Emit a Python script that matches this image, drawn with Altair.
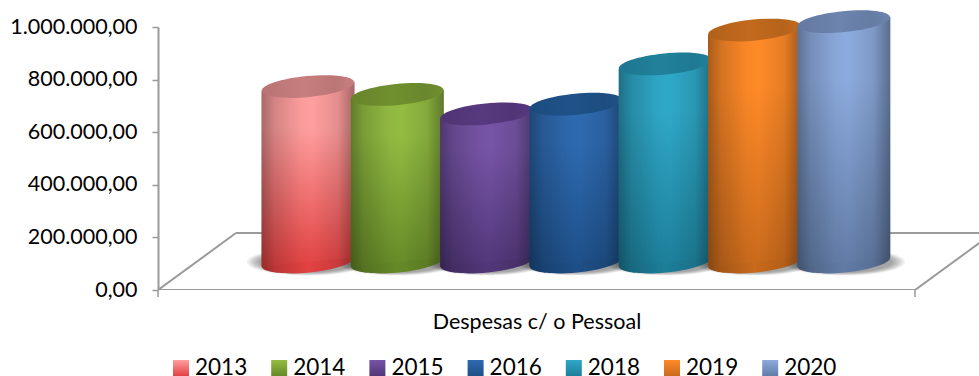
import math
import altair as alt
import pandas as pd

# Personnel spending per year
YEARS = ["2013", "2014", "2015", "2016", "2018", "2019", "2020"]
VALUES = [667000, 637000, 563000, 600000, 753000, 882000, 914000]

# Cylinder colours: wall at its top, wall at its bottom, lid
WALL_TOP = ["#FF9E9E", "#93BC42", "#7654A6", "#2E6AB0", "#2FA8C8", "#FF8A28", "#8CAADD"]
WALL_BOTTOM = ["#E24242", "#668A28", "#523779", "#1E4F88", "#1D7F9A", "#C96A1C", "#627CA6"]
LID = ["#C87E7E", "#70902F", "#57397F", "#1F5289", "#21819C", "#C26A1D", "#6C84AE"]

TICKS = [0, 200000, 400000, 600000, 800000, 1000000]
CATEGORY_TITLE = "Despesas c/ o Pessoal"

GREY = "#9A9A9A"
FONT = "Lato"

# Plot frame on the page
LEFT, TOP, PLOT_W, PLOT_H = 158, 27, 821, 263
STEP = 89.3
CENTER0 = 308.0
TOP_VALUE = 1000000


def to_x(px):
    """Category units for a horizontal page position."""
    return (px - CENTER0) / STEP


def to_v(px):
    """Value units for a vertical distance in pixels."""
    return px / PLOT_H * TOP_VALUE


DEPTH = to_v(28)       # cylinders stand half way back on the floor
BACK = to_v(57)        # back edge of the floor
TILT = to_v(4.5)       # lean of the elliptical ends
HALF = 46.5 / STEP     # cylinder half width in category units

x_scale = alt.Scale(domain=[to_x(LEFT), to_x(LEFT + PLOT_W)], nice=False, zero=False)
y_scale = alt.Scale(domain=[0, TOP_VALUE], nice=False, zero=False)
value_axis = alt.Axis(
    values=TICKS, grid=False, title=None,
    labelExpr="replace(format(datum.value, ',.0f'), regexp(',', 'g'), '.') + ',00'",
    labelFont=FONT, labelFontSize=21.5, labelColor="#000000", labelPadding=15,
    domainColor=GREY, domainWidth=2, tickColor=GREY, tickWidth=1.5, tickSize=6,
)
X = alt.X("x:Q", scale=x_scale, axis=None)
X2 = alt.X2("x2:Q")
Y = alt.Y("y:Q", scale=y_scale, axis=value_axis, stack=None)
Y2 = alt.Y2("y2:Q")


def ellipse_path(ratio, degrees):
    """Closed ellipse of half width 1 as four cubic curves."""
    a = math.radians(degrees)
    k = 0.5523

    def pt(u, v):
        px, py = u, v * ratio
        return f"{px * math.cos(a) - py * math.sin(a):.4f},{px * math.sin(a) + py * math.cos(a):.4f}"

    return (
        f"M{pt(-1, 0)}"
        f"C{pt(-1, -k)} {pt(-k, -1)} {pt(0, -1)}"
        f"C{pt(k, -1)} {pt(1, -k)} {pt(1, 0)}"
        f"C{pt(1, k)} {pt(k, 1)} {pt(0, 1)}"
        f"C{pt(-k, 1)} {pt(-1, k)} {pt(-1, 0)}Z"
    )


END_SHAPE = ellipse_path(0.226, -5.6)
SHADOW_SHAPE = ellipse_path(0.22, 0)


def across(stops):
    return alt.Gradient(
        gradient="linear",
        stops=[alt.GradientStop(color=c, offset=o) for o, c in stops],
        x1=0, x2=1, y1=0, y2=0,
    )


def down(top, bottom):
    return alt.Gradient(
        gradient="linear",
        stops=[alt.GradientStop(color=top, offset=0), alt.GradientStop(color=top, offset=0.25),
               alt.GradientStop(color=bottom, offset=1)],
        x1=0, x2=0, y1=0, y2=1,
    )


def mix(hex_color, amount):
    """Darken a colour towards black."""
    r, g, b = (int(hex_color[i:i + 2], 16) for i in (1, 3, 5))
    return f"#{int(r * (1 - amount)):02x}{int(g * (1 - amount)):02x}{int(b * (1 - amount)):02x}"


WALL_SHADE = across([
    (0, "rgba(0,0,0,0.34)"), (0.14, "rgba(0,0,0,0.17)"), (0.42, "rgba(0,0,0,0.02)"),
    (0.55, "rgba(0,0,0,0)"), (0.82, "rgba(0,0,0,0.1)"), (1, "rgba(0,0,0,0.36)"),
])

layers = []

# Floor of the chart
floor = pd.DataFrame({
    "x": [to_x(LEFT), to_x(LEFT), to_x(915), to_x(236)],
    "x2": [to_x(915), to_x(236), to_x(993), to_x(993)],
    "y": [0, 0, 0, BACK],
    "y2": [0, BACK, BACK, BACK],
})
layers.append(
    alt.Chart(floor).mark_rule(color=GREY, strokeWidth=2, clip=True).encode(X, X2, Y, Y2)
)

# Short drops below the floor's front corners
drops = pd.DataFrame({"x": [to_x(LEFT), to_x(915)]})
layers.append(
    alt.Chart(drops).mark_rule(color=GREY, strokeWidth=1.5).encode(
        X, y=alt.value(PLOT_H), y2=alt.value(PLOT_H + 7)
    )
)

# Soft contact shadows
bases = pd.DataFrame({"x": list(range(len(YEARS))), "y": [DEPTH] * len(YEARS)})
for scale in [1.32, 1.28, 1.24, 1.2, 1.16, 1.12, 1.08, 1.04]:
    layers.append(
        alt.Chart(bases).mark_point(
            shape=SHADOW_SHAPE, filled=True, fill="#000000", fillOpacity=0.05, strokeWidth=0,
            size=(2 * 46.5 * scale) ** 2,
        ).encode(X, Y)
    )

# Cylinders, earlier years behind later ones
for i, (year, value) in enumerate(zip(YEARS, VALUES)):
    end_size = (2 * 46.5) ** 2
    wall = pd.DataFrame({
        "x": [i - HALF, i + HALF],
        "y": [value + DEPTH - TILT, value + DEPTH + TILT],
        "y2": [DEPTH - TILT, DEPTH + TILT],
    })
    foot = pd.DataFrame({"x": [i], "y": [DEPTH]})
    lid = pd.DataFrame({"x": [i], "y": [value + DEPTH]})
    bottom = WALL_BOTTOM[i]
    layers.append(
        alt.Chart(foot).mark_point(
            shape=END_SHAPE, filled=True, strokeWidth=0, opacity=1, size=end_size,
            fill=across([(0, mix(bottom, 0.34)), (0.14, mix(bottom, 0.17)), (0.5, bottom),
                         (0.82, mix(bottom, 0.1)), (1, mix(bottom, 0.36))]),
        ).encode(X, Y)
    )
    layers.append(
        alt.Chart(wall).mark_area(fill=down(WALL_TOP[i], bottom), strokeWidth=0, opacity=1).encode(X, Y, Y2)
    )
    layers.append(
        alt.Chart(wall).mark_area(fill=WALL_SHADE, strokeWidth=0, opacity=1).encode(X, Y, Y2)
    )
    layers.append(
        alt.Chart(lid).mark_point(
            shape=END_SHAPE, filled=True, strokeWidth=0, opacity=1, size=end_size,
            fill=across([(0, mix(LID[i], 0.08)), (0.45, LID[i]), (0.8, mix(LID[i], 0.06)), (1, LID[i])]),
        ).encode(X, Y)
    )

# Category caption
layers.append(
    alt.Chart(pd.DataFrame({"t": [CATEGORY_TITLE]})).mark_text(
        font=FONT, fontSize=21.5, color="#000000", align="center", baseline="alphabetic",
    ).encode(x=alt.value(537 - LEFT), y=alt.value(329 - TOP), text="t:N")
)

# Legend row
for i, year in enumerate(YEARS):
    layers.append(
        alt.Chart(pd.DataFrame({"t": [year]})).mark_rect(
            fill=alt.Gradient(
                gradient="linear",
                stops=[alt.GradientStop(color=WALL_TOP[i], offset=0),
                       alt.GradientStop(color=WALL_BOTTOM[i], offset=1)],
                x1=0, x2=0, y1=0, y2=1,
            ),
        ).encode(
            x=alt.value(173 + 98.2 * i - LEFT), x2=alt.value(189 + 98.2 * i - LEFT),
            y=alt.value(360 - TOP), y2=alt.value(376 - TOP),
        )
    )
    layers.append(
        alt.Chart(pd.DataFrame({"t": [year]})).mark_text(
            font=FONT, fontSize=22.5, color="#000000", align="left", baseline="alphabetic",
        ).encode(x=alt.value(195 + 98.2 * i - LEFT), y=alt.value(375 - TOP), text="t:N")
    )

chart = alt.layer(*layers).properties(
    width=PLOT_W,
    height=PLOT_H,
    autosize=alt.AutoSizeParams(type="none"),
    padding={"left": LEFT, "top": TOP, "right": 0, "bottom": 376 - TOP - PLOT_H},
    background="#FFFFFF",
).configure_view(stroke=None)

chart.save("out.html", embed_options={"renderer": "svg", "actions": False})
